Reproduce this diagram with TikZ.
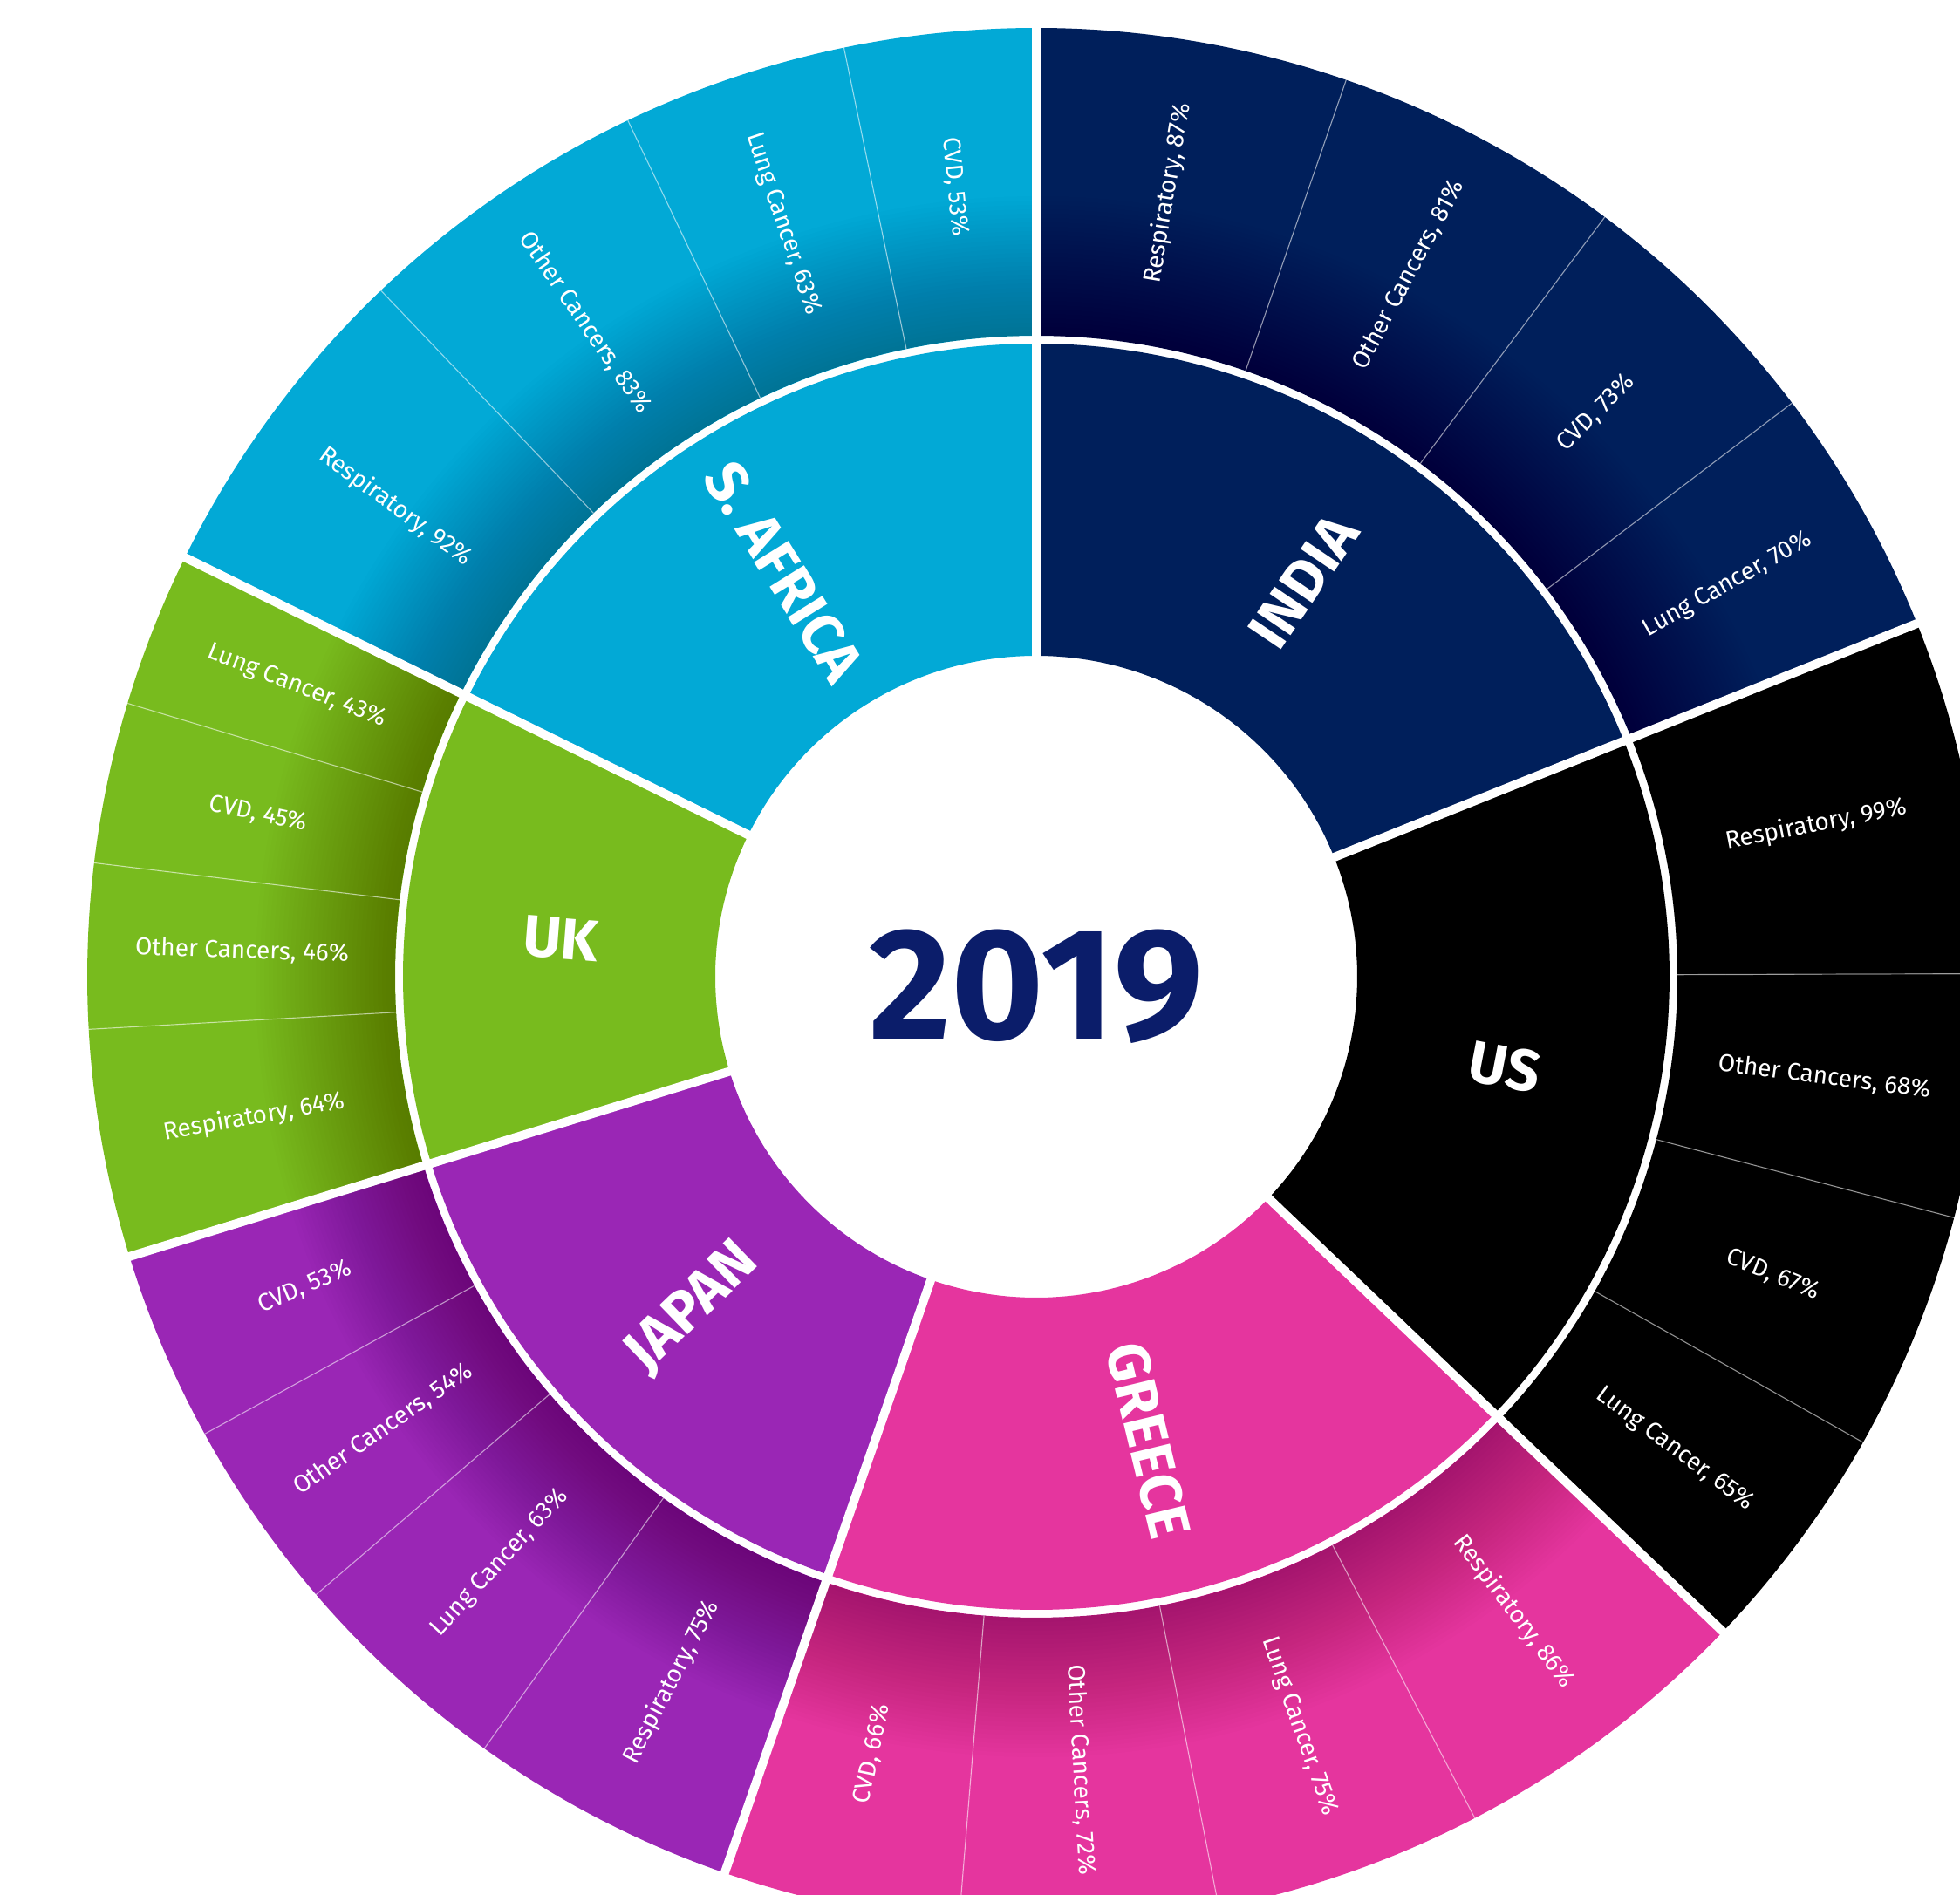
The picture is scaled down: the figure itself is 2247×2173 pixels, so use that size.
\documentclass[tikz,border=0pt]{standalone}
\usepackage{fontspec}
\setmainfont{Fira Sans}
\IfFontExistsTF{FiraSans-Heavy.otf}
  {\newfontfamily\yearfont{FiraSans-Heavy.otf}}
  {\newcommand\yearfont{\bfseries}}
\usetikzlibrary{positioning}

\definecolor{indiablue}{HTML}{001F5B}
\definecolor{usblack}{HTML}{000000}
\definecolor{greecepink}{HTML}{E5359E}
\definecolor{japanpurple}{HTML}{9A26B5}
\definecolor{ukgreen}{HTML}{78BB1E}
\definecolor{africacyan}{HTML}{02A9D6}
\definecolor{yearblue}{HTML}{0B1D6A}

\tikzset{
  countrylabel/.style={text=white, font=\bfseries\fontsize{67}{67}\selectfont},
  causelabel/.style={text=white, font=\fontsize{28}{28}\selectfont},
  yearlabel/.style={text=yearblue, font=\yearfont\fontsize{182}{182}\selectfont},
  thinsep/.style={white, line width=1.2pt, opacity=0.5},
  thicksep/.style={white, line width=10pt}
}

% country / colour / sum of its four values
\def\countrylist{INDIA/indiablue/311, US/usblack/299, GREECE/greecepink/299,
  JAPAN/japanpurple/245, UK/ukgreen/198, S. AFRICA/africacyan/291}
% value / cause / colour, clockwise from the top
\def\causelist{87/Respiratory/indiablue, 81/Other Cancers/indiablue, 73/CVD/indiablue, 70/Lung Cancer/indiablue,
  99/Respiratory/usblack, 68/Other Cancers/usblack, 67/CVD/usblack, 65/Lung Cancer/usblack,
  86/Respiratory/greecepink, 75/Lung Cancer/greecepink, 72/Other Cancers/greecepink, 66/CVD/greecepink,
  75/Respiratory/japanpurple, 63/Lung Cancer/japanpurple, 54/Other Cancers/japanpurple, 53/CVD/japanpurple,
  64/Respiratory/ukgreen, 46/Other Cancers/ukgreen, 45/CVD/ukgreen, 43/Lung Cancer/ukgreen,
  92/Respiratory/africacyan, 83/Other Cancers/africacyan, 63/Lung Cancer/africacyan, 53/CVD/africacyan}

\begin{document}
\begin{tikzpicture}[x=1pt, y=1pt]
\useasboundingbox (-1188,-1053) rectangle (1059,1120);
\clip (-1188,-1053) rectangle (1059,1120);

% middle ring
\def\cstart{90}
\foreach \country/\col/\total in \countrylist {
  \pgfmathsetmacro\cend{\cstart-\total/1643*360}
  \fill[\col] (\cstart:368) arc[start angle=\cstart, end angle=\cend, radius=368]
    -- (\cend:726) arc[start angle=\cend, end angle=\cstart, radius=726] -- cycle;
  \global\let\cstart\cend
}

% outer ring
\def\sstart{90}
\foreach \v/\cause/\col in \causelist {
  \pgfmathsetmacro\send{\sstart-\v/1643*360}
  \fill[\col] (\sstart:735) arc[start angle=\sstart, end angle=\send, radius=735]
    -- (\send:1088) arc[start angle=\send, end angle=\sstart, radius=1088] -- cycle;
  \global\let\sstart\send
}

% shadow on the inner edge of the outer ring
\foreach \k in {1,...,32}
  \fill[black, fill opacity=0.008, even odd rule] (0,0) circle[radius=735+\k*5] (0,0) circle[radius=735];

% cause labels and thin lines
\def\sstart{90}
\foreach \v/\cause/\col [count=\j] in \causelist {
  \pgfmathsetmacro\send{\sstart-\v/1643*360}
  \pgfmathsetmacro\m{(\sstart+\send)/2}
  \pgfmathsetmacro\rot{cos(\m)<0 ? \m+180 : \m}
  \draw[thinsep] (\sstart:735) -- (\sstart:1095);
  \node[causelabel, rotate=\rot] (cause\j) at (\m:911) {\cause, \v\%};
  \global\let\sstart\send
}

% country labels and thick lines
\def\cstart{90}
\foreach \country/\col/\total [count=\i] in \countrylist {
  \pgfmathsetmacro\cend{\cstart-\total/1643*360}
  \pgfmathsetmacro\m{(\cstart+\cend)/2}
  \pgfmathsetmacro\rot{cos(\m)<0 ? \m+180 : \m}
  \draw[thicksep] (\cstart:360) -- (\cstart:1100);
  \node[countrylabel, rotate=\rot] (country\i) at (\m:547) {\country};
  \global\let\cstart\cend
}

\node[yearlabel] (year) at (0,-11) {2019};
\end{tikzpicture}
\end{document}
